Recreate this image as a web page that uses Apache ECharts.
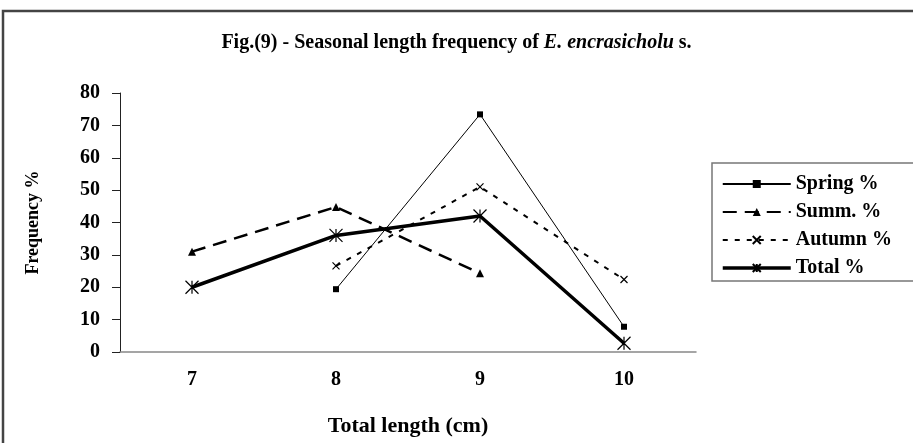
<!DOCTYPE html>
<html>
<head>
<meta charset="utf-8">
<script src="https://cdn.jsdelivr.net/npm/echarts@6/dist/echarts.min.js"></script>
<style>
  html, body { margin: 0; padding: 0; background: #fff; }
  #chart { width: 913px; height: 443px; }
</style>
</head>
<body>
<div id="chart"></div>
<script>
// values
const lengths = ["7", "8", "9", "10"]
const spring = [null, 19.4, 73.4, 7.8]
const summer = [31, 44.8, 24.3, null]
const autumn = [null, 26.6, 51, 22.4]
const total = [20, 36, 42, 2.7]
const yTicks = { min: 0, max: 80, step: 10 }

const serif = "'Liberation Serif', 'DejaVu Serif', serif"
const crossPath = "path://M0,0L10,10M10,0L0,10"
const starPath = "path://M0,0L10,10M10,0L0,10M5,0L5,10"

const chart = echarts.init(document.getElementById("chart"))

chart.setOption({
  animation: false,
  backgroundColor: "#fff",
  textStyle: { fontFamily: serif, color: "#000" },
  title: {
    text: "Fig.(9) - Seasonal length frequency of {i|E. encrasicholu} s.",
    left: "center",
    top: 28,
    textStyle: {
      fontFamily: serif,
      fontSize: 20,
      fontWeight: "bold",
      color: "#000",
      rich: {
        i: { fontFamily: serif, fontSize: 20, fontWeight: "bold", fontStyle: "italic", color: "#000" }
      }
    }
  },
  graphic: [
    {
      type: "rect",
      shape: { x: 3, y: 11, width: 1000, height: 600 },
      style: { fill: "none", stroke: "#444", lineWidth: 2.5 },
      silent: true
    },
    {
      type: "rect",
      shape: { x: 712, y: 163, width: 300, height: 118 },
      style: { fill: "none", stroke: "#777", lineWidth: 1.5 },
      silent: true
    }
  ],
  legend: {
    orient: "vertical",
    left: 716,
    top: 169,
    itemWidth: 68,
    itemHeight: 10,
    itemGap: 8,
    textStyle: { fontFamily: serif, fontSize: 20, fontWeight: "bold", color: "#000" },
    data: [
      { name: "Spring %" },
      { name: "Summ. %" },
      { name: "Autumn %" },
      { name: "Total %", lineStyle: { width: 3.5 } }
    ]
  },
  grid: { left: 120, right: 217, top: 93, bottom: 91 },
  xAxis: {
    type: "category",
    data: lengths,
    boundaryGap: true,
    name: "Total length (cm)",
    nameLocation: "middle",
    nameGap: 63,
    nameTextStyle: { fontFamily: serif, fontSize: 22, fontWeight: "bold", color: "#000" },
    axisLine: { lineStyle: { color: "#888", width: 1.5 } },
    axisTick: { length: 7, lineStyle: { color: "#333" } },
    axisLabel: { margin: 18, fontFamily: serif, fontSize: 20, fontWeight: "bold", color: "#000" }
  },
  yAxis: {
    type: "value",
    min: yTicks.min,
    max: yTicks.max,
    interval: yTicks.step,
    name: "Frequency %",
    nameLocation: "middle",
    nameGap: 78,
    nameTextStyle: { fontFamily: serif, fontSize: 18, fontWeight: "bold", color: "#000" },
    axisLine: { show: true, lineStyle: { color: "#222", width: 1 } },
    axisTick: { show: true, length: 8, lineStyle: { color: "#222" } },
    splitLine: { show: false },
    axisLabel: { margin: 20, fontFamily: serif, fontSize: 20, fontWeight: "bold", color: "#000" }
  },
  series: [
    {
      name: "Spring %",
      type: "line",
      data: spring,
      symbol: "rect",
      symbolSize: 6,
      itemStyle: { color: "#000" },
      lineStyle: { color: "#000", width: 1 }
    },
    {
      name: "Summ. %",
      type: "line",
      data: summer,
      symbol: "triangle",
      symbolSize: 8,
      itemStyle: { color: "#000" },
      lineStyle: { color: "#000", width: 2.5, type: [14, 8] }
    },
    {
      name: "Autumn %",
      type: "line",
      data: autumn,
      symbol: crossPath,
      symbolSize: 7,
      itemStyle: { color: "none", borderColor: "#000", borderWidth: 1.2 },
      lineStyle: { color: "#000", width: 2, type: [5, 7] }
    },
    {
      name: "Total %",
      type: "line",
      data: total,
      symbol: starPath,
      symbolSize: 13,
      itemStyle: { color: "none", borderColor: "#000", borderWidth: 1.2 },
      lineStyle: { color: "#000", width: 3.5 }
    }
  ]
})
</script>
</body>
</html>
